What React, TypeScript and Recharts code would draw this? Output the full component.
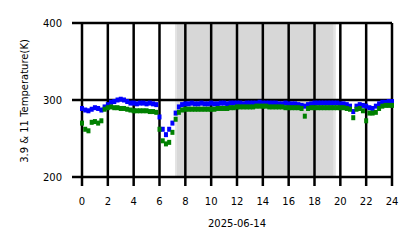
import React from "react";
import {
  ComposedChart,
  ReferenceArea,
  ReferenceLine,
  Scatter,
  XAxis,
  YAxis,
} from "recharts";

const HOURS = [
  0, 0.25, 0.5, 0.75, 1, 1.25, 1.5, 1.75, 2, 2.25, 2.5, 2.75, 3, 3.25, 3.5,
  3.75, 4, 4.25, 4.5, 4.75, 5, 5.25, 5.5, 5.75, 6, 6.25, 6.5, 6.75, 7, 7.25,
  7.5, 7.75, 8, 8.25, 8.5, 8.75, 9, 9.25, 9.5, 9.75, 10, 10.25, 10.5, 10.75,
  11, 11.25, 11.5, 11.75, 12, 12.25, 12.5, 12.75, 13, 13.25, 13.5, 13.75, 14,
  14.25, 14.5, 14.75, 15, 15.25, 15.5, 15.75, 16, 16.25, 16.5, 16.75, 17,
  17.25, 17.5, 17.75, 18, 18.25, 18.5, 18.75, 19, 19.25, 19.5, 19.75, 20,
  20.25, 20.5, 20.75, 21, 21.25, 21.5, 21.75, 22, 22.25, 22.5, 22.75, 23,
  23.25, 23.5, 23.75, 24,
];

// 3.9 um brightness temperature (K)
const T39 = [
  289, 287, 286, 288, 290, 289, 287, 291, 294, 297, 298, 300, 301, 300, 298,
  296, 296, 295, 296, 296, 295, 296, 295, 294, 278, 262, 255, 262, 270, 283,
  291, 294, 295, 295, 296, 295, 295, 296, 295, 295, 296, 295, 295, 296, 296,
  295, 296, 296, 296, 296, 295, 296, 296, 296, 296, 297, 296, 296, 296, 296,
  296, 295, 295, 296, 295, 295, 295, 294, 293, 292, 294, 295, 296, 296, 296,
  296, 296, 296, 296, 296, 295, 295, 294, 292, 285, 292, 294, 293, 292, 290,
  289, 292, 295, 297, 297, 298, 298,
];

// 11 um brightness temperature (K)
const T11 = [
  270, 262, 260, 271, 272, 270, 273, 288, 290, 291, 290, 290, 289, 289, 288,
  287, 286, 286, 286, 286, 286, 285, 285, 284, 262, 247, 243, 245, 258, 275,
  284, 287, 288, 288, 288, 288, 288, 288, 288, 288, 288, 288, 289, 289, 289,
  289, 290, 290, 291, 291, 291, 291, 291, 291, 292, 292, 292, 292, 291, 291,
  291, 291, 291, 290, 290, 290, 290, 290, 289, 279, 289, 290, 290, 290, 290,
  290, 290, 290, 290, 290, 290, 290, 289, 288, 277, 288, 289, 286, 273, 283,
  283, 284, 289, 292, 293, 293, 293,
];

const X_TICKS = [0, 2, 4, 6, 8, 10, 12, 14, 16, 18, 20, 22, 24];
const Y_TICKS = [200, 300, 400];
const DATE_LABEL = "2025-06-14";
const Y_LABEL = "3.9 & 11 Temperature(K)";

const FONT = "DejaVu Sans, sans-serif";

const blueData = HOURS.map((h, i) => ({ h, v: T39[i] }));
const greenData = HOURS.map((h, i) => ({ h, v: T11[i] }));

const square = (color: string) => (props: any) => {
  const { cx, cy } = props;
  if (cx == null || cy == null) return <g />;
  return <rect x={cx - 2} y={cy - 2.5} width={4} height={5} fill={color} />;
};

export default function App() {
  return (
    <div style={{ position: "absolute", left: 0, top: 0 }}>
      <ComposedChart
        width={418}
        height={248}
        margin={{ top: 23, right: 26, bottom: 0, left: 0 }}
      >
        <ReferenceArea
          x1={7.2}
          x2={19.65}
          y1={200}
          y2={400}
          fill="#e4e4e4"
          fillOpacity={1}
          stroke="none"
        />
        <ReferenceArea
          x1={7.35}
          x2={19.45}
          y1={200}
          y2={400}
          fill="#d7d7d7"
          fillOpacity={1}
          stroke="none"
        />
        {X_TICKS.map((t) => (
          <ReferenceLine key={`x${t}`} x={t} stroke="#000" strokeWidth={2.5} />
        ))}
        {Y_TICKS.map((t) => (
          <ReferenceLine key={`y${t}`} y={t} stroke="#000" strokeWidth={2.5} />
        ))}
        <XAxis
          type="number"
          dataKey="h"
          domain={[0, 24]}
          ticks={X_TICKS}
          interval={0}
          axisLine={false}
          tickLine={{ stroke: "#000", strokeWidth: 2.5 }}
          tickSize={9}
          tickMargin={12}
          height={71}
          tick={{ fill: "#000", fontSize: 10, fontFamily: FONT }}
          label={{
            content: () => (
              <text
                x={237}
                y={227}
                textAnchor="middle"
                fontSize={10}
                fontFamily={FONT}
                fill="#000"
              >
                {DATE_LABEL}
              </text>
            ),
          }}
        />
        <YAxis
          type="number"
          dataKey="v"
          domain={[200, 400]}
          ticks={Y_TICKS}
          interval={0}
          allowDataOverflow
          axisLine={false}
          tickLine={{ stroke: "#000", strokeWidth: 2.5 }}
          tickSize={10}
          tickMargin={10}
          width={82}
          tick={{ fill: "#000", fontSize: 10, fontFamily: FONT }}
          label={{
            content: () => (
              <text
                x={28}
                y={101}
                transform="rotate(-90 28 101)"
                textAnchor="middle"
                fontSize={10}
                fontFamily={FONT}
                fill="#000"
              >
                {Y_LABEL}
              </text>
            ),
          }}
        />
        <Scatter
          data={blueData}
          dataKey="v"
          shape={square("#0000ff")}
          isAnimationActive={false}
        />
        <Scatter
          data={greenData}
          dataKey="v"
          shape={square("#008000")}
          isAnimationActive={false}
        />
      </ComposedChart>
    </div>
  );
}
